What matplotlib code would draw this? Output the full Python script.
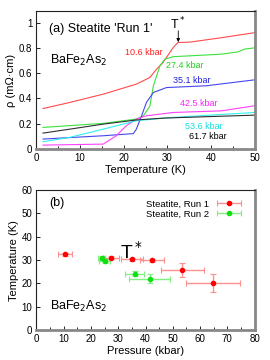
import matplotlib
matplotlib.use("Agg")
import matplotlib.pyplot as plt
from matplotlib.container import ErrorbarContainer
from matplotlib.legend_handler import HandlerErrorbar

plt.rcParams['font.family'] = ['Liberation Sans', 'DejaVu Sans']

# ---- panel (a) data: rho(T) at several pressures ----
labels_a = ["10.6 kbar", "27.4 kbar", "35.1 kbar", "42.5 kbar", "53.6 kbar", "61.7 kbar"]
colors_a = ["#ff4b4b", "#3ee03e", "#4646f0", "#ff40ff", "#30f0f0", "#303030"]
text_colors_a = ["#ff2020", "#20d020", "#2020e0", "#ff20ff", "#10e0e0", "#000000"]

T_red = [1.5, 7.6, 15.3, 22.9, 26.0, 27.5, 29.0, 31.3, 32.4, 35.1, 42.4, 50]
r_red = [0.32, 0.368, 0.434, 0.513, 0.566, 0.63, 0.684, 0.80, 0.842, 0.845, 0.88, 0.92]
T_green = [1.5, 15.3, 22.9, 24.5, 26.0, 26.8, 28.3, 29.4, 31.3, 42.4, 46.2, 47.7, 50]
r_green = [0.171, 0.203, 0.237, 0.263, 0.34, 0.50, 0.658, 0.71, 0.73, 0.75, 0.768, 0.79, 0.80]
T_blue = [1.5, 15.3, 22.2, 22.9, 24.1, 25.2, 26.8, 27.4, 29.8, 38.9, 50]
r_blue = [0.079, 0.105, 0.122, 0.157, 0.263, 0.368, 0.447, 0.455, 0.486, 0.50, 0.547]
T_mag = [1.5, 15.3, 18.3, 20.6, 22.9, 25.2, 27.4, 31.3, 42.4, 50]
r_mag = [0.031, 0.039, 0.105, 0.184, 0.237, 0.263, 0.272, 0.289, 0.302, 0.342]
T_cyan = [1.5, 7.6, 15.3, 22.9, 29.4, 31.3, 50]
r_cyan = [0.058, 0.092, 0.157, 0.224, 0.245, 0.25, 0.289]
T_black = [1.5, 7.6, 15.3, 22.9, 29.4, 50]
r_black = [0.126, 0.157, 0.197, 0.23, 0.245, 0.268]

curves_T = [T_red, T_green, T_blue, T_mag, T_cyan, T_black]
curves_r = [r_red, r_green, r_blue, r_mag, r_cyan, r_black]
label_pos = [(20.2, 0.766), (29.8, 0.66), (31.2, 0.54), (33.0, 0.36), (34.0, 0.176), (35.0, 0.097)]

# ---- panel (b) data: T* vs pressure ----
P_run1 = [10.5, 27.3, 35.0, 42.3, 53.5, 64.7]
T_run1 = [32.5, 31.0, 30.3, 30.0, 25.7, 20.2]
Perr_run1 = [2.5, 3.0, 4.0, 4.5, 8.0, 10.0]
Terr_run1 = [0.6, 0.6, 0.6, 0.6, 3.0, 4.0]
P_run2 = [24.0, 25.0, 36.0, 41.5]
T_run2 = [31.0, 29.5, 24.2, 22.0]
Perr_run2 = [1.3, 2.0, 3.5, 7.5]
Terr_run2 = [0.8, 0.8, 1.0, 2.0]

fig = plt.figure(figsize=(2.7, 3.6), dpi=100)
ax1 = fig.add_axes([0.135, 0.586, 0.808, 0.383])
ax2 = fig.add_axes([0.135, 0.083, 0.808, 0.389])

def style(ax):
    for s in ['left', 'top']:
        ax.spines[s].set_color('#222222')
        ax.spines[s].set_linewidth(0.8)
    for s in ['right', 'bottom']:
        ax.spines[s].set_color('#888888')
        ax.spines[s].set_linewidth(2.0)
    ax.tick_params(direction='in', labelsize=7, length=3, width=0.6, pad=3)
    ax.tick_params(which='minor', direction='in', length=2, width=0.6)

for T, r, c in zip(curves_T, curves_r, colors_a):
    ax1.plot(T, r, color=c, lw=0.8)
for lab, (x, y), c in zip(labels_a, label_pos, text_colors_a):
    ax1.text(x, y, lab, color=c, fontsize=6.5, va='center', ha='left')
ax1.set_xlim(0, 50)
ax1.set_ylim(0, 1.09)
ax1.set_xticks([0, 10, 20, 30, 40, 50])
ax1.set_xticks([5, 15, 25, 35, 45], minor=True)
ax1.set_yticks([0, 0.2, 0.4, 0.6, 0.8, 1.0])
ax1.set_yticklabels(['0', '0.2', '0.4', '0.6', '0.8', '1'])
ax1.set_xlabel('Temperature (K)', fontsize=8, labelpad=1)
ax1.set_ylabel('ρ (mΩ·cm)', fontsize=8, labelpad=2)
ax1.text(2.8, 0.95, "(a) Steatite 'Run 1'", fontsize=9, va='center')
ax1.text(3.0, 0.70, r"BaFe$_2$As$_2$", fontsize=9, va='center')
ax1.text(32.4, 0.99, r"T$^*$", fontsize=9, ha='center', va='center')
ax1.annotate("", xy=(32.5, 0.845), xytext=(32.5, 0.935),
             arrowprops=dict(arrowstyle='-|>', color='black', lw=0.6,
                             mutation_scale=5, shrinkA=0, shrinkB=0))
style(ax1)

ax2.errorbar(P_run1, T_run1, xerr=Perr_run1, yerr=Terr_run1, fmt='o',
             color='red', ecolor='#ff9090', ms=3, elinewidth=1, capsize=2,
             capthick=0.8, label='Steatite, Run 1')
ax2.errorbar(P_run2, T_run2, xerr=Perr_run2, yerr=Terr_run2, fmt='o',
             color='#10e010', ecolor='#80f080', ms=3, elinewidth=1, capsize=2,
             capthick=0.8, label='Steatite, Run 2')
ax2.set_xlim(0, 80)
ax2.set_ylim(0, 60)
ax2.set_xticks(range(0, 81, 10))
ax2.set_xticks(range(5, 80, 10), minor=True)
ax2.set_yticks(range(0, 61, 10))
ax2.set_xlabel('Pressure (kbar)', fontsize=8, labelpad=1)
ax2.set_ylabel('Temperature (K)', fontsize=8, labelpad=2)
ax2.text(4.8, 54.4, "(b)", fontsize=9, va='center')
ax2.text(5.0, 10.0, r"BaFe$_2$As$_2$", fontsize=9, va='center')
ax2.text(34.7, 33.5, r"T$^*$", fontsize=14, ha='center', va='center')
leg = ax2.legend(loc='upper right', fontsize=6.8, frameon=False,
                 markerfirst=False, handlelength=3.4, borderaxespad=0.6,
                 labelspacing=0.1, handletextpad=0.4,
                 handler_map={ErrorbarContainer: HandlerErrorbar(xerr_size=1.25, yerr_size=0.0)})
style(ax2)

fig.savefig('out.png', dpi=100)
